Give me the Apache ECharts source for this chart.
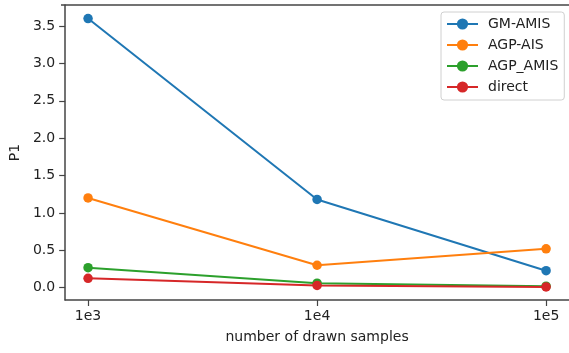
<!DOCTYPE html>
<html><head><meta charset="utf-8">
<script src="https://cdn.jsdelivr.net/npm/echarts@6/dist/echarts.min.js"></script>
<style>html,body{margin:0;padding:0;background:#fff}#c{width:569px;height:353px}</style>
</head><body><div id="c"></div>
<script>
const categories = ['1e3', '1e4', '1e5'];
const gmAmis = [3.60, 1.18, 0.227];
const agpAis = [1.20, 0.30, 0.52];
const agpAmis = [0.267, 0.06, 0.02];
const direct = [0.125, 0.03, 0.01];
const yTicks = [0, 0.5, 1.0, 1.5, 2.0, 2.5, 3.0, 3.5];
const xTicks = [0, 1, 2];

const font = 'DejaVu Sans';
const colors = ['#1f77b4', '#ff7f0e', '#2ca02c', '#d62728'];
function mk(name, vals, i) {
  return {
    name: name, type: 'line', data: vals.map((v, k) => [k, v]),
    symbol: 'circle', symbolSize: 9.5, showSymbol: true,
    lineStyle: { width: 2, color: colors[i] },
    itemStyle: { color: colors[i] },
    z: 2 + i
  };
}
const chart = echarts.init(document.getElementById('c'), null, { renderer: 'canvas' });
chart.setOption({
  animation: false,
  backgroundColor: '#fff',
  grid: { left: 61, top: 5, width: 510, height: 295, containLabel: false },
  legend: {
    orient: 'vertical', left: 441, top: 12,
    padding: [5, 6, 6, 5], itemWidth: 31, itemHeight: 14, itemGap: 7,
    borderColor: '#d0d0d0', borderWidth: 1, borderRadius: 3,
    backgroundColor: 'rgba(255,255,255,0.8)',
    textStyle: { fontFamily: font, fontSize: 14, color: '#222', padding: [0, 0, 0, 5] },
    data: ['GM-AMIS', 'AGP-AIS', 'AGP_AMIS', 'direct']
  },
  xAxis: {
    type: 'value', min: -0.1, max: 2.1,
    name: 'number of drawn samples', nameLocation: 'middle', nameGap: 30,
    nameTextStyle: { fontFamily: font, fontSize: 14, color: '#222' },
    axisLine: { show: true, onZero: false, lineStyle: { color: '#444', width: 1.5 } },
    axisTick: { show: true, length: 6, customValues: xTicks, lineStyle: { color: '#444', width: 1.2 } },
    axisLabel: { customValues: xTicks, margin: 9, fontFamily: font, fontSize: 14, color: '#222',
      formatter: v => categories[Math.round(v)] },
    splitLine: { show: false }
  },
  yAxis: {
    type: 'value', min: -0.165, max: 3.781,
    name: 'P1', nameLocation: 'middle', nameGap: 42, nameRotate: 90,
    nameTextStyle: { fontFamily: font, fontSize: 14, color: '#222' },
    axisLine: { show: true, onZero: false, lineStyle: { color: '#444', width: 1.5 } },
    axisTick: { show: true, length: 6, customValues: yTicks, lineStyle: { color: '#444', width: 1.2 } },
    axisLabel: { customValues: yTicks, margin: 10, fontFamily: font, fontSize: 14, color: '#222',
      formatter: v => v.toFixed(1) },
    splitLine: { show: false }
  },
  series: [
    mk('GM-AMIS', gmAmis, 0),
    mk('AGP-AIS', agpAis, 1),
    mk('AGP_AMIS', agpAmis, 2),
    mk('direct', direct, 3)
  ],
  graphic: [{
    type: 'line', shape: { x1: 61, y1: 5, x2: 571, y2: 5 },
    style: { stroke: '#444', lineWidth: 1.5 }, z: 1
  }]
});
</script></body></html>
